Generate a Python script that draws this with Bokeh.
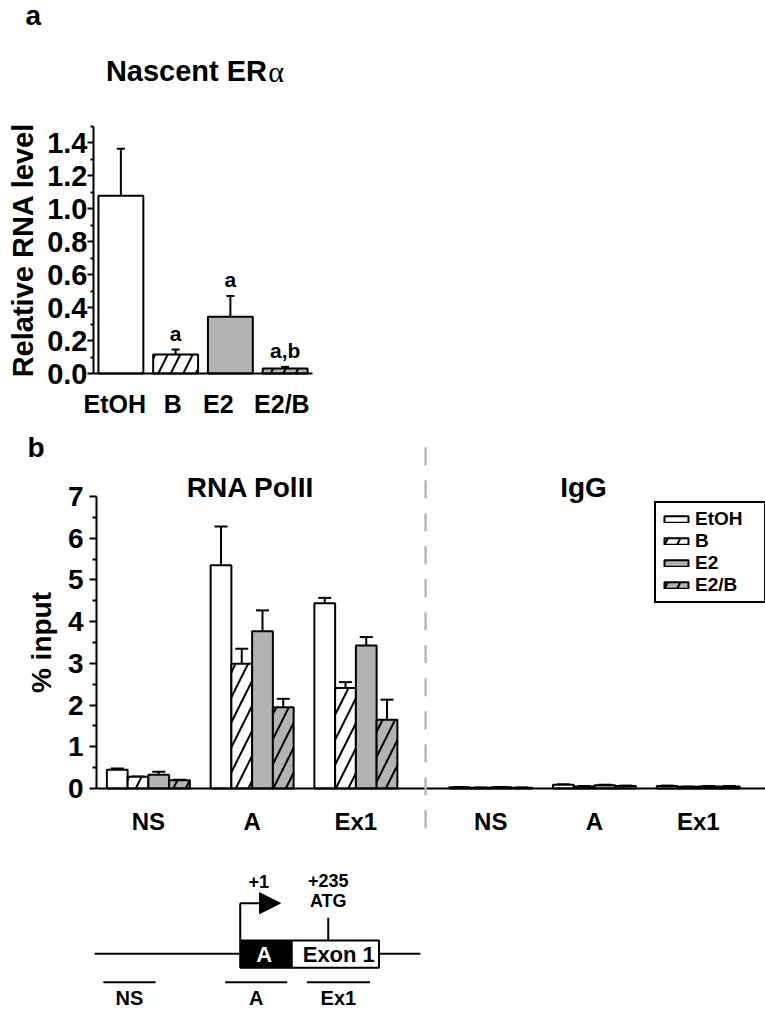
from bokeh.plotting import figure
from bokeh.layouts import column
from bokeh.models import (Range1d, FixedTicker, NumeralTickFormatter, Label,
                          Whisker, TeeHead, ColumnDataSource, Arrow, NormalHead, Legend)
from bokeh.core.properties import value
from bokeh.embed import file_html
from bokeh.resources import INLINE

# ---------------- data ----------------
treatments = ["EtOH", "B", "E2", "E2/B"]
nascent = [1.08, 0.115, 0.345, 0.03]
nascent_err = [0.285, 0.03, 0.125, 0.01]
significance = ["", "a", "a", "a,b"]

regions = ["NS", "A", "Ex1"]
polii_etoh = [0.45, 5.35, 4.44]
polii_b = [0.28, 2.99, 2.41]
polii_e2 = [0.33, 3.77, 3.43]
polii_e2b = [0.20, 1.95, 1.65]
polii_etoh_err = [0.03, 0.93, 0.13]
polii_b_err = [0.01, 0.36, 0.14]
polii_e2_err = [0.07, 0.50, 0.20]
polii_e2b_err = [0.01, 0.20, 0.48]

igg_etoh = [0.03, 0.09, 0.06]
igg_b = [0.02, 0.05, 0.04]
igg_e2 = [0.03, 0.08, 0.05]
igg_e2b = [0.02, 0.06, 0.05]
igg_etoh_err = [0.005, 0.01, 0.01]
igg_b_err = [0.005, 0.01, 0.005]
igg_e2_err = [0.005, 0.01, 0.01]
igg_e2b_err = [0.005, 0.01, 0.01]

# gene schematic (bp relative to TSS)
gene_span = [-386, 480]
exon_a = [1, 138]
exon_1 = [138, 370]
tss = 1
atg = 235
amplicon_names = ["NS", "A", "Ex1"]
amplicon_start = [-363, -39, 178]
amplicon_end = [-224, 126, 346]

FONT = "Liberation Sans"
GRAY = "#b3b3b3"
W = 765

fills = {"EtOH": "white", "B": "white", "E2": GRAY, "E2/B": GRAY}
hatches = {"EtOH": " ", "B": "/", "E2": " ", "E2/B": "/"}


def base_fig(h, xr, yr):
    p = figure(width=W, height=h, x_range=Range1d(*xr), y_range=Range1d(*yr),
               output_backend="svg", toolbar_location=None, min_border=0)
    p.xgrid.visible = False
    p.ygrid.visible = False
    p.outline_line_color = None
    return p


def style_axes(p, tick_size, label_size):
    for ax in list(p.xaxis) + list(p.yaxis):
        ax.axis_line_width = 2
        ax.axis_line_color = "black"
        ax.major_tick_line_width = 2
        ax.minor_tick_line_width = 2
        ax.major_label_text_font = FONT
        ax.major_label_text_font_style = "bold"
        ax.major_label_text_font_size = tick_size
        ax.major_label_text_color = "black"
        ax.axis_label_text_font = FONT
        ax.axis_label_text_font_style = "bold"
        ax.axis_label_text_font_size = label_size
        ax.axis_label_text_color = "black"
        ax.fixed_location = 0


def label(p, x, y, text, size, align="left", font=FONT, style="bold", color="black"):
    p.add_layout(Label(x=x, y=y, text=text, text_font=font, text_font_style=style,
                       text_font_size=size, text_align=align, text_baseline="middle",
                       text_color=color))


# ---------------- panel a ----------------
# slot = 54.75 px per category, 164.67 px per unit; axis origin at canvas (93, 373)
HA = 420
fa = base_fig(HA, (-93 / 54.75, (W - 93) / 54.75), ((373 - HA) / 164.67, 373 / 164.67))
xa = [i + 0.5 for i in range(len(treatments))]
label_shift = [-0.11, -0.05, -0.22, -0.06]
src_a = ColumnDataSource(dict(x=xa, top=nascent, up=[v + e for v, e in zip(nascent, nascent_err)],
                              fill=[fills[t] for t in treatments], hatch=[hatches[t] for t in treatments],
                              sig=significance,
                              sy=[v + e + 0.1 for v, e in zip(nascent, nascent_err)]))
fa.vbar(x="x", top="top", width=0.82, source=src_a, fill_color="fill", line_color="black",
        line_width=2, hatch_pattern="hatch", hatch_color="black", hatch_weight=2, hatch_scale=25)
fa.add_layout(Whisker(base="x", lower="top", upper="up", source=src_a, dimension="height",
                      line_width=2, lower_head=None, upper_head=TeeHead(size=8, line_width=2)))
fa.text(x="x", y="sy", text="sig", source=src_a, text_align="center", text_baseline="middle",
        text_font=value(FONT), text_font_style="bold", text_font_size="21px", text_color="black")
style_axes(fa, "29px", "29px")
fa.yaxis.bounds = (0, 1.5)
fa.yaxis.ticker = FixedTicker(ticks=[0, 0.2, 0.4, 0.6, 0.8, 1.0, 1.2, 1.4],
                              minor_ticks=[0.1, 0.3, 0.5, 0.7, 0.9, 1.1, 1.3, 1.5])
fa.yaxis.formatter = NumeralTickFormatter(format="0.0")
fa.yaxis.major_tick_out = 6
fa.yaxis.major_tick_in = 0
fa.yaxis.minor_tick_out = 3
fa.yaxis.minor_tick_in = 0
fa.yaxis.major_label_standoff = 0
fa.yaxis.axis_label = "Relative RNA level"
fa.yaxis.axis_label_standoff = 5
fa.xaxis.bounds = (0, len(treatments))
xa_labels = [x + s for x, s in zip(xa, label_shift)]
fa.xaxis.ticker = FixedTicker(ticks=xa_labels, minor_ticks=[])
fa.xaxis.major_label_overrides = {float(x): t for x, t in zip(xa_labels, treatments)}
fa.xaxis.major_tick_out = 0
fa.xaxis.major_tick_in = 0
fa.xaxis.major_label_text_font_size = "25px"
fa.xaxis.major_label_standoff = 16
label(fa, -1.242, 2.173, "a", "28px")
label(fa, 3.17, 1.834, "Nascent ER", "29px", align="right")
label(fa, 3.19, 1.834, "α", "30px", font="Liberation Serif", style="normal")

# ---------------- panel b ----------------
# slot = 20.75 px, 41.714 px per unit; axis origin at canvas (96, 368)
HB = 422
fb = base_fig(HB, (-96 / 20.75, (W - 96) / 20.75), ((368 - HB) / 41.714, 368 / 41.714))
left_centers = [2.5, 7.5, 12.5]
right_centers = [19, 24, 29]
series = [("EtOH", polii_etoh, polii_etoh_err, igg_etoh, igg_etoh_err),
          ("B", polii_b, polii_b_err, igg_b, igg_b_err),
          ("E2", polii_e2, polii_e2_err, igg_e2, igg_e2_err),
          ("E2/B", polii_e2b, polii_e2b_err, igg_e2b, igg_e2b_err)]
legend_items = []
for i, (name, pv, pe, gv, ge) in enumerate(series):
    xs = [c + (i - 1.5) for c in left_centers + right_centers]
    vals = pv + gv
    errs = pe + ge
    src = ColumnDataSource(dict(x=xs, top=vals, up=[v + e for v, e in zip(vals, errs)]))
    r = fb.vbar(x="x", top="top", width=1.0, source=src, fill_color=fills[name], line_color="black",
                line_width=2, hatch_pattern=hatches[name], hatch_color="black", hatch_weight=2,
                hatch_scale=25)
    fb.add_layout(Whisker(base="x", lower="top", upper="up", source=src, dimension="height",
                          line_width=2, lower_head=None, upper_head=TeeHead(size=13, line_width=2)))
    legend_items.append((name, [r]))
style_axes(fb, "28px", "28px")
fb.yaxis.bounds = (0, 7)
fb.yaxis.ticker = FixedTicker(ticks=[0, 1, 2, 3, 4, 5, 6, 7],
                              minor_ticks=[0.5, 1.5, 2.5, 3.5, 4.5, 5.5, 6.5])
fb.yaxis.major_tick_out = 7
fb.yaxis.major_tick_in = 0
fb.yaxis.minor_tick_out = 4
fb.yaxis.minor_tick_in = 0
fb.yaxis.major_label_standoff = 6
fb.yaxis.axis_label = "% input"
fb.yaxis.axis_label_standoff = 8
all_centers = left_centers + right_centers
fb.xaxis.bounds = (0, (W - 96) / 20.75)
fb.xaxis.ticker = FixedTicker(ticks=all_centers, minor_ticks=[])
fb.xaxis.major_label_overrides = {float(c): regions[k % 3] for k, c in enumerate(all_centers)}
fb.xaxis.major_tick_out = 0
fb.xaxis.major_tick_in = 0
fb.xaxis.major_label_text_font_size = "24px"
fb.xaxis.major_label_standoff = 19
fb.add_layout(Arrow(end=None, x_start=15.86, y_start=8.18, x_end=15.86, y_end=-1.15,
                    line_color="#b8b8b8", line_width=2.5, line_dash="18 15"))
label(fb, -3.325, 8.17, "b", "28px")
label(fb, 7.42, 7.204, "RNA PolII", "28px", align="center")
label(fb, 23.47, 7.204, "IgG", "28px", align="center")
legend = Legend(items=legend_items, location=(654, 239), border_line_color="black",
                border_line_width=2, border_line_alpha=1, background_fill_color="white",
                background_fill_alpha=1, label_text_font=FONT, label_text_font_style="bold",
                label_text_font_size="19px", label_text_color="black",
                glyph_width=30, glyph_height=8, label_standoff=4, spacing=0, padding=5, margin=0,
                label_height=20, label_width=64)
fb.add_layout(legend, "center")

# ---------------- gene schematic ----------------
HC = 169
fc = base_fig(HC, (-636.4, 1397.6), (0, HC))
fc.axis.visible = False
fc.segment(x0=[gene_span[0]], y0=[57.7], x1=[gene_span[1]], y1=[57.7], line_color="black", line_width=2)
fc.quad(left=[exon_a[0]], right=[exon_a[1]], bottom=[43.7], top=[71], fill_color="black",
        line_color="black", line_width=2)
fc.quad(left=[exon_1[0]], right=[exon_1[1]], bottom=[43.7], top=[71], fill_color="white",
        line_color="black", line_width=2)
fc.text(x=[(exon_a[0] + exon_a[1]) / 2 - 5], y=[57], text=["A"], text_color="white",
        text_align="center", text_baseline="middle", text_font=value(FONT), text_font_style="bold",
        text_font_size="22px")
fc.text(x=[(exon_1[0] + exon_1[1]) / 2 + 9], y=[57], text=["Exon 1"], text_color="black",
        text_align="center", text_baseline="middle", text_font=value(FONT), text_font_style="bold",
        text_font_size="22px")
fc.segment(x0=[tss], y0=[71], x1=[tss], y1=[108.3], line_color="black", line_width=2)
fc.add_layout(Arrow(x_start=tss, y_start=108.3, x_end=108, y_end=108.3, line_width=2,
                    end=NormalHead(size=21, fill_color="black", line_color="black")))
fc.segment(x0=[atg], y0=[71], x1=[atg], y1=[93.7], line_color="black", line_width=2)
fc.text(x=[50, atg, atg], y=[130, 131, 110.5], text=["+1", "+" + str(atg), "ATG"],
        text_align="center", text_baseline="middle", text_font=value(FONT), text_font_style="bold",
        text_font_size="18px", text_color="black")
fc.segment(x0=amplicon_start, y0=[29.3] * 3, x1=amplicon_end, y1=[29.3] * 3, line_color="black",
           line_width=2)
fc.text(x=[(s + e) / 2 for s, e in zip(amplicon_start, amplicon_end)], y=[13.5] * 3, text=amplicon_names,
        text_align="center", text_baseline="middle", text_font=value(FONT), text_font_style="bold",
        text_font_size="20px", text_color="black")

layout = column(fa, fb, fc, spacing=0)
open("out.html", "w").write(file_html(layout, INLINE))
